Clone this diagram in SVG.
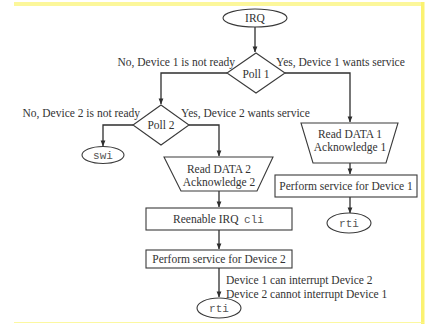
<svg xmlns="http://www.w3.org/2000/svg" width="428" height="324" viewBox="0 0 428 324">
  <style>
    .shape { fill: #ffffff; stroke: #3a3a3a; stroke-width: 1.1; }
    .wire { fill: none; stroke: #2e2e2e; stroke-width: 1.3; }
    .lbl { font-family: "Liberation Serif", "Times New Roman", serif; font-size: 11.5px; fill: #333333; }
    .mid { text-anchor: middle; }
    .code { font-family: "Liberation Mono", "Courier New", monospace; font-size: 11px; fill: #555555; text-anchor: middle; }
  </style>
  <defs>
    <marker id="arrow" viewBox="0 0 8 8" refX="7.5" refY="4" markerWidth="6" markerHeight="6" orient="auto" markerUnits="userSpaceOnUse">
      <path d="M0,0.8 L8,4 L0,7.2 Z" fill="#2e2e2e"/>
    </marker>
  </defs>

  <!-- page frame -->
  <rect x="0" y="0" width="428" height="324" fill="#ffffff"/>
  <rect x="14" y="2" width="410" height="4" fill="#fbf68a" opacity="0.85"/>
  <rect x="421" y="2" width="3.5" height="322" fill="#fbf270"/>
  <rect x="14" y="322" width="410" height="1" fill="#fbf68a" opacity="0.8"/>

  <!-- connectors -->
  <g id="connectors">
    <path class="wire" d="M255,27 V52" marker-end="url(#arrow)"/>
    <path class="wire" d="M227,73 H161 V104" marker-end="url(#arrow)"/>
    <path class="wire" d="M285,73 H350 V122" marker-end="url(#arrow)"/>
    <path class="wire" d="M133,125 H103 V146" marker-end="url(#arrow)"/>
    <path class="wire" d="M189,125 H219 V156" marker-end="url(#arrow)"/>
    <path class="wire" d="M219,191 V207" marker-end="url(#arrow)"/>
    <path class="wire" d="M219,230 V249" marker-end="url(#arrow)"/>
    <path class="wire" d="M219,268 V297" marker-end="url(#arrow)"/>
    <path class="wire" d="M350,163 V174" marker-end="url(#arrow)"/>
    <path class="wire" d="M350,197 V213" marker-end="url(#arrow)"/>
  </g>

  <!-- start terminal -->
  <g id="irq">
    <ellipse class="shape" cx="255" cy="18" rx="32" ry="9"/>
    <text class="lbl mid" x="255" y="22">IRQ</text>
  </g>

  <!-- first poll -->
  <g id="poll1">
    <polygon class="shape" points="256,53 285,73 256,93 227,73"/>
    <text class="lbl mid" x="256" y="78">Poll 1</text>
    <text class="lbl" x="235" y="66" text-anchor="end">No, Device 1 is not ready</text>
    <text class="lbl" x="276" y="66">Yes, Device 1 wants service</text>
  </g>

  <!-- second poll -->
  <g id="poll2">
    <polygon class="shape" points="161,105 189,125 161,145 133,125"/>
    <text class="lbl mid" x="161" y="129">Poll 2</text>
    <text class="lbl" x="140" y="117" text-anchor="end">No, Device 2 is not ready</text>
    <text class="lbl" x="181" y="117">Yes, Device 2 wants service</text>
  </g>

  <!-- software interrupt -->
  <g id="swi">
    <ellipse class="shape" cx="103" cy="155" rx="21" ry="8.5"/>
    <text class="code" x="103" y="158.5">swi</text>
  </g>

  <!-- device 2 handling -->
  <g id="read2">
    <polygon class="shape" points="164,157 273,157 257,191 181,191"/>
    <text class="lbl mid" x="219" y="173">Read DATA 2</text>
    <text class="lbl mid" x="219" y="186">Acknowledge 2</text>
  </g>

  <g id="reenable">
    <rect class="shape" x="146" y="208" width="146" height="22"/>
    <text class="lbl" x="173" y="223">Reenable IRQ</text>
    <text class="code" x="254" y="223">cli</text>
  </g>

  <g id="service2">
    <rect class="shape" x="146" y="250" width="146" height="18"/>
    <text class="lbl mid" x="219" y="263">Perform service for Device 2</text>
  </g>

  <g id="note2">
    <text class="lbl" x="226" y="284">Device 1 can interrupt Device 2</text>
    <text class="lbl" x="226" y="298">Device 2 cannot interrupt Device 1</text>
  </g>

  <g id="rti2">
    <ellipse class="shape" cx="219" cy="308" rx="22" ry="10"/>
    <text class="code" x="219" y="312">rti</text>
  </g>

  <!-- device 1 handling -->
  <g id="read1">
    <polygon class="shape" points="301,123 398,123 386,163 313,163"/>
    <text class="lbl mid" x="350" y="138">Read DATA 1</text>
    <text class="lbl mid" x="350" y="151">Acknowledge 1</text>
  </g>

  <g id="service1">
    <rect class="shape" x="275" y="175" width="142" height="22"/>
    <text class="lbl mid" x="346" y="190">Perform service for Device 1</text>
  </g>

  <g id="rti1">
    <ellipse class="shape" cx="349" cy="223" rx="22" ry="10"/>
    <text class="code" x="349" y="227">rti</text>
  </g>
</svg>
